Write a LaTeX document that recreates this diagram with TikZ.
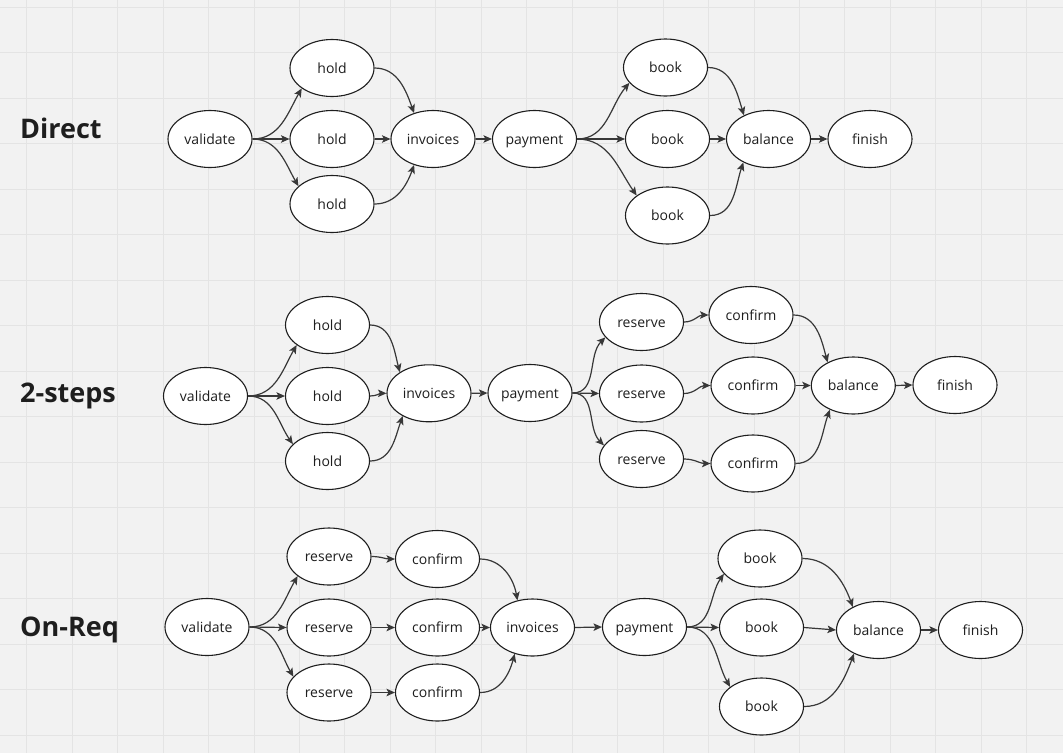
\documentclass[tikz,border=0pt]{standalone}
\usepackage{fontspec}
\setmainfont{Open Sans}
\usetikzlibrary{shapes.geometric,arrows.meta}
\definecolor{bg}{HTML}{F2F2F2}
\definecolor{gridc}{HTML}{E4E4E4}
\definecolor{ink}{HTML}{1E1E1E}
\definecolor{edgec}{HTML}{383838}
\begin{document}
\begin{tikzpicture}[x=1pt,y=1pt,
  st/.style={ellipse,draw=ink,line width=1.1pt,fill=white,minimum width=84pt,minimum height=57pt,inner sep=0pt,text height=10.6pt,text depth=0pt,font=\fontsize{14}{16}\selectfont,text=ink},
  ttl/.style={anchor=base west,inner sep=0pt,font=\fontsize{27}{30}\selectfont\bfseries,text=ink},
  ar/.style={draw=edgec,line width=1.2pt,-{Stealth[length=8.5pt,width=7.5pt,inset=2pt]}}]
\useasboundingbox (0,0) rectangle (1063,-753);
\fill[bg] (0,0) rectangle (1063,-753);
\foreach \k in {0,...,22} {\draw[gridc,line width=1pt] ({26.8+45.45*\k},0) -- ({26.8+45.45*\k},-753);}
\foreach \k in {0,...,16} {\draw[gridc,line width=1pt] (0,{-7-45.5*\k}) -- (1063,{-7-45.5*\k});}

% titles
\node[ttl] (t1) at (20,-138) {Direct};
\node[ttl] (t2) at (20,-402.7) {2-steps};
\node[ttl] (t3) at (20,-636.7) {On-Req};

% Row 1
\node[st] (v1) at (210,-139) {validate};
\node[st] (h1a) at (332,-68) {hold};
\node[st] (h1b) at (332,-139) {hold};
\node[st] (h1c) at (332,-204) {hold};
\node[st] (i1) at (433,-139) {invoices};
\node[st] (p1) at (534.5,-139) {payment};
\node[st] (b1a) at (665.5,-67.5) {book};
\node[st] (b1b) at (667.5,-139) {book};
\node[st] (b1c) at (667.5,-215.5) {book};
\node[st] (bal1) at (768.5,-139) {balance};
\node[st] (f1) at (870,-139) {finish};

\draw[ar] (v1.east) to[out=0,in=240] (h1a.214);
\draw[ar] (v1.east) -- (h1b.west);
\draw[ar] (v1.east) to[out=0,in=120] (h1c.152);
\draw[ar] (h1a.east) to[out=0,in=110] (i1.126);
\draw[ar] (h1b.east) -- (i1.west);
\draw[ar] (h1c.east) to[out=0,in=250] (i1.234);
\draw[ar] (i1.east) -- (p1.west);
\draw[ar] (p1.east) to[out=0,in=230] (b1a.203);
\draw[ar] (p1.east) -- (b1b.west);
\draw[ar] (p1.east) to[out=0,in=125] (b1c.147);
\draw[ar] (b1a.east) to[out=0,in=107] (bal1.136);
\draw[ar] (b1b.east) -- (bal1.west);
\draw[ar] (b1c.east) to[out=0,in=251] (bal1.223);
\draw[ar] (bal1.east) -- (f1.west);

% Row 2
\node[st] (v2) at (205.5,-396) {validate};
\node[st] (h2a) at (327.5,-325) {hold};
\node[st] (h2b) at (327.5,-396) {hold};
\node[st] (h2c) at (327.5,-461) {hold};
\node[st] (i2) at (429,-393.3) {invoices};
\node[st] (p2) at (530,-393) {payment};
\node[st] (r2a) at (641.5,-322) {reserve};
\node[st] (r2b) at (641.5,-393.5) {reserve};
\node[st] (r2c) at (641.5,-459) {reserve};
\node[st] (c2a) at (751,-315) {confirm};
\node[st] (c2b) at (753,-385.5) {confirm};
\node[st] (c2c) at (753,-463.5) {confirm};
\node[st] (bal2) at (853.3,-385.5) {balance};
\node[st] (f2) at (955,-385) {finish};

\draw[ar] (v2.east) to[out=0,in=240] (h2a.213);
\draw[ar] (v2.east) -- (h2b.west);
\draw[ar] (v2.east) to[out=0,in=125] (h2c.154);
\draw[ar] (h2a.east) to[out=0,in=105] (i2.144);
\draw[ar] (h2b.east) to[out=0,in=180] (i2.west);
\draw[ar] (h2c.east) to[out=0,in=250] (i2.221);
\draw[ar] (i2.east) -- (p2.west);
\draw[ar] (p2.east) to[out=0,in=225] (r2a.203);
\draw[ar] (p2.east) -- (r2b.west);
\draw[ar] (p2.east) to[out=0,in=135] (r2c.160);
\draw[ar] (r2a.east) to[out=0,in=180] (c2a.west);
\draw[ar] (r2b.east) to[out=0,in=180] (c2b.west);
\draw[ar] (r2c.east) to[out=0,in=180] (c2c.west);
\draw[ar] (c2a.east) to[out=0,in=105] (bal2.138);
\draw[ar] (c2b.east) -- (bal2.west);
\draw[ar] (c2c.east) to[out=0,in=250] (bal2.226);
\draw[ar] (bal2.east) -- (f2.west);

% Row 3
\node[st] (v3) at (207,-627) {validate};
\node[st] (r3a) at (329,-556.5) {reserve};
\node[st] (r3b) at (329,-627.5) {reserve};
\node[st] (r3c) at (329,-692.5) {reserve};
\node[st] (c3a) at (437.5,-559) {confirm};
\node[st] (c3b) at (437.5,-627.5) {confirm};
\node[st] (c3c) at (437.5,-692.5) {confirm};
\node[st] (i3) at (532.5,-627.5) {invoices};
\node[st] (p3) at (644.5,-627) {payment};
\node[st] (b3a) at (760,-558.5) {book};
\node[st] (b3b) at (761.5,-627.5) {book};
\node[st] (b3c) at (761.5,-706.5) {book};
\node[st] (bal3) at (878.5,-630) {balance};
\node[st] (f3) at (980.5,-630) {finish};

\draw[ar] (v3.east) to[out=0,in=240] (r3a.212);
\draw[ar] (v3.east) -- (r3b.west);
\draw[ar] (v3.east) to[out=0,in=120] (r3c.156);
\draw[ar] (r3a.east) to[out=0,in=180] (c3a.west);
\draw[ar] (r3b.east) -- (c3b.west);
\draw[ar] (r3c.east) -- (c3c.west);
\draw[ar] (c3a.east) to[out=0,in=100] (i3.119);
\draw[ar] (c3b.east) -- (i3.west);
\draw[ar] (c3c.east) to[out=0,in=255] (i3.236);
\draw[ar] (i3.east) -- (p3.west);
\draw[ar] (p3.east) to[out=0,in=235] (b3a.203);
\draw[ar] (p3.east) -- (b3b.west);
\draw[ar] (p3.east) to[out=0,in=120] (b3c.148);
\draw[ar] (b3a.east) to[out=0,in=110] (bal3.138);
\draw[ar] (b3b.east) -- (bal3.west);
\draw[ar] (b3c.east) to[out=0,in=250] (bal3.224);
\draw[ar] (bal3.east) -- (f3.west);
\end{tikzpicture}
\end{document}
